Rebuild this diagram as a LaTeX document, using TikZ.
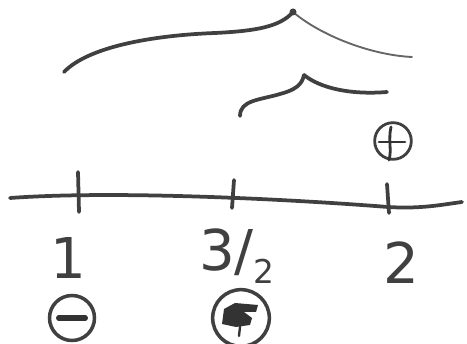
\documentclass[tikz,border=0pt]{standalone}
\usepackage{fontspec}
\setmainfont{DejaVu Sans}
\usetikzlibrary{positioning}
\tikzset{
  pen/.style={line width=3.2pt, draw=black!75, line cap=round, line join=round},
  thinpen/.style={line width=1.6pt, draw=black!60, line cap=round},
  tick/.style={pen},
  numlabel/.style={text=black!75, font=\fontsize{48}{48}\selectfont, inner sep=0pt},
  sign/.style={circle, draw=black!75, line width=3pt, text=black!75, inner sep=0pt,
    font=\fontsize{30}{30}\selectfont\bfseries}
}
\begin{document}
\begin{tikzpicture}[x=0.03cm,y=-0.03cm]
    \useasboundingbox (0,0) rectangle (467,344);
    % number line
    \coordinate (axL) at (10,198);
    \coordinate (axR) at (462,202);
    \draw[pen] (axL) .. controls (120,190) and (300,200) .. (388,207) .. controls (420,209) and (440,205) .. (axR);
    \coordinate (t1top) at (78,172);  \coordinate (t1bot) at (79,212);
    \coordinate (t2top) at (234,180); \coordinate (t2bot) at (232,208);
    \coordinate (t3top) at (387,184); \coordinate (t3bot) at (389,213);
    \draw[tick] (t1top) -- (t1bot);
    \draw[tick] (t2top) -- (t2bot);
    \draw[tick] (t3top) -- (t3bot);
    % labels
    \node[numlabel] (one) at (68,258) {1};
    \node[numlabel] (half) at (237,256) {3/\raisebox{-11pt}{\fontsize{28}{28}\selectfont 2}};
    \node[numlabel] (two) at (401,263) {2};
    % signs
    \node[sign, minimum size=1.35cm] (minus) at (72,318) {};
    \draw[line width=4.5pt, draw=black!80, line cap=round] ([xshift=-0.4cm]minus.center) -- ([xshift=0.4cm]minus.center);
    \node[sign, minimum size=1.7cm] (mixed) at (241,318) {};
    \fill[black!80] (224,309) -- (235,303) -- (258,305) -- (256,312) -- (244,312) -- (252,318) -- (250,325) -- (236,327) -- (222,324) -- cycle;
    \draw[line width=2pt, draw=black!80, line cap=round] (241,318) -- (239,336);
    \node[sign, minimum width=1.0cm, minimum height=1.1cm, line width=2.4pt] (plus) at (393,141) {};
    \draw[line width=2.4pt, draw=black!80, line cap=round] (379,142) -- (405,142);
    \draw[line width=2.4pt, draw=black!80, line cap=round] (391,127) .. controls (388,140) and (392,150) .. (389,160);
    % big brace
    \coordinate (bigL) at (64,72);
    \coordinate (bigTip) at (293,12);
    \coordinate (bigR) at (412,57);
    \draw[pen] (bigL) .. controls (90,45) and (160,35) .. (215,33) .. controls (255,31) and (280,27) .. (bigTip);
    \draw[thinpen] (bigTip) .. controls (320,35) and (370,55) .. (bigR);
    \fill[black!75] (bigTip) circle (3.5);
    % small brace
    \coordinate (smL) at (240,116);
    \coordinate (smTip) at (304,75);
    \coordinate (smR) at (387,92);
    \draw[pen] (smL) .. controls (240,100) and (260,100) .. (280,94) .. controls (295,90) and (302,85) .. (smTip);
    \draw[pen] (smTip) .. controls (320,88) and (350,95) .. (smR);
\end{tikzpicture}
\end{document}
